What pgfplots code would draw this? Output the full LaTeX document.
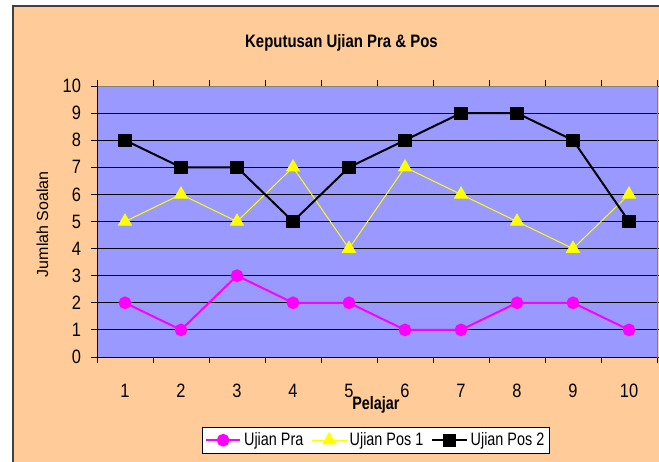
\documentclass[border=0pt]{standalone}
\usepackage{fontspec}
\setmainfont{Liberation Sans}
\usepackage{pgfplots}
\pgfplotsset{compat=1.18}
\definecolor{peach}{HTML}{FFCC99}
\definecolor{plotbg}{HTML}{9999FF}
\definecolor{bordergray}{HTML}{404040}
\definecolor{framegray}{HTML}{808080}
\definecolor{mag}{HTML}{FF00FF}
\definecolor{yel}{HTML}{FFFF00}
\begin{document}
\begin{tikzpicture}
\useasboundingbox (0,0) rectangle (494.25pt,345.75pt);
\fill[white] (0,0) rectangle (494.25pt,345.75pt);
\filldraw[fill=peach, draw=bordergray, line width=1.5pt] (9.75pt,-10pt) rectangle (510pt,341.6pt);
\begin{axis}[
  at={(72.75pt,78pt)}, anchor=south west,
  scale only axis, width=420pt, height=203.25pt,
  xmin=0.5, xmax=10.5, ymin=0, ymax=10,
  axis background/.style={fill=plotbg},
  axis line style={framegray, line width=0.75pt},
  xtick={1,...,10}, minor xtick={0.5,1.5,...,10.5},
  ytick={0,1,...,10},
  tick align=outside,
  major tick length=4.5pt, minor tick length=4.5pt,
  xtick style={draw=none},
  minor x tick style={draw=black, line width=0.75pt},
  ytick style={black, line width=0.75pt},
  ymajorgrids, grid style={black, line width=0.75pt},
  /pgf/number format/assume math mode=true,
  xticklabel={\scalebox{0.85}[1]{\pgfmathprintnumber{\tick}}},
  yticklabel={\scalebox{0.85}[1]{\pgfmathprintnumber{\tick}}},
  ticklabel style={font=\fontsize{14.5}{14.5}\selectfont},
  xticklabel style={yshift=-12pt},
  yticklabel style={xshift=-4pt},
  title={\scalebox{0.83}[1]{Keputusan Ujian Pra \& Pos}},
  title style={font=\bfseries\fontsize{13.5}{14}\selectfont, at={(rel axis cs:0.4366,1.1287)}, anchor=center},
  xlabel={\scalebox{0.8}[1]{Pelajar}},
  xlabel style={font=\bfseries\fontsize{13.5}{14}\selectfont, at={(rel axis cs:0.498,-0.176)}, anchor=center},
  ylabel={Jumlah Soalan},
  ylabel style={font=\fontsize{12}{12}\selectfont, at={(rel axis cs:-0.0973,0.49)}, anchor=center, rotate=0},
  legend style={at={(rel axis cs:0.498,-0.307)}, anchor=center, draw=black, line width=0.75pt, fill=white,
    font=\fontsize{13.5}{14}\selectfont, inner sep=2pt,
    /tikz/every even column/.append style={column sep=4pt}},
  legend columns=3,
  legend image code/.code={\draw[mark repeat=2,mark phase=2,#1] plot coordinates {(0pt,0pt) (13pt,0pt) (26pt,0pt)};},
]
\addplot[mag, line width=1.5pt, mark=*, mark size=4pt, mark options={fill=mag, draw=mag}]
  coordinates {(1,2) (2,1) (3,3) (4,2) (5,2) (6,1) (7,1) (8,2) (9,2) (10,1)};
\addlegendentry{\scalebox{0.8}[1]{Ujian Pra}}
\addplot[yel, line width=0.75pt, mark=triangle*, mark size=5.5pt, mark options={fill=yel, draw=yel}]
  coordinates {(1,5) (2,6) (3,5) (4,7) (5,4) (6,7) (7,6) (8,5) (9,4) (10,6)};
\addlegendentry{\scalebox{0.8}[1]{Ujian Pos 1}}
\addplot[black, line width=1.5pt, mark=square*, mark size=4.2pt, mark options={fill=black, draw=black}]
  coordinates {(1,8) (2,7) (3,7) (4,5) (5,7) (6,8) (7,9) (8,9) (9,8) (10,5)};
\addlegendentry{\scalebox{0.8}[1]{Ujian Pos 2}}
\draw[black, line width=0.75pt] (rel axis cs:0,1) -- (rel axis cs:0,0) -- (rel axis cs:1,0);
\end{axis}
\end{tikzpicture}
\end{document}
